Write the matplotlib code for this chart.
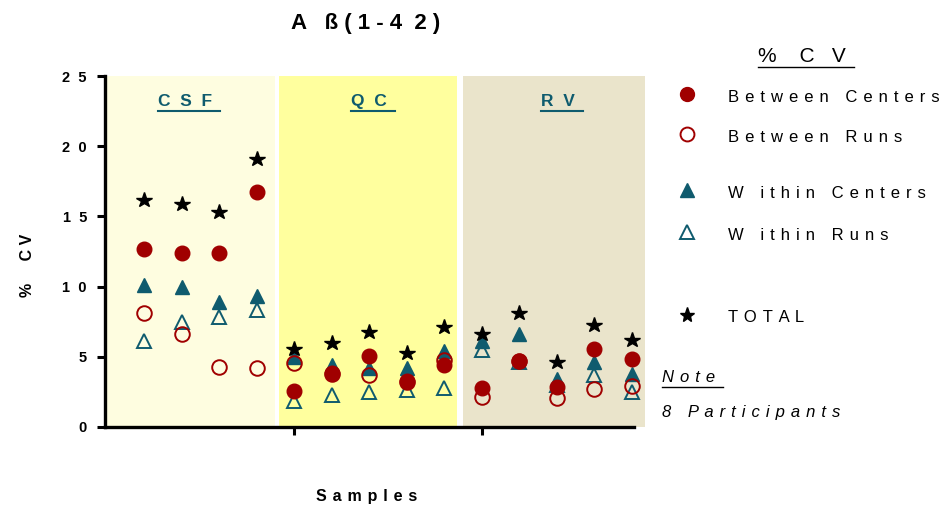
import matplotlib
matplotlib.use("Agg")
import matplotlib.pyplot as plt
from matplotlib.lines import Line2D

plt.rcParams['font.family'] = ['Liberation Sans', 'DejaVu Sans']

# data: 4 CSF, 5 QC, 5 RV samples
groups = ['CSF', 'QC', 'RV']
between_centers = [12.65, 12.4, 12.4, 16.75, 2.55, 3.85, 5.05, 3.25, 4.45, 2.8, 4.7, 2.85, 5.55, 4.85]
between_runs = [8.1, 6.65, 4.25, 4.2, 4.55, 3.8, 3.7, 3.2, 4.8, 2.15, 4.7, 2.05, 2.7, 2.95]
within_centers = [10.1, 10.0, 8.9, 9.3, 5.0, 4.4, 4.2, 4.2, 5.4, 6.1, 6.65, 3.45, 4.6, 3.8]
within_runs = [6.1, 7.5, 7.8, 8.35, 1.85, 2.3, 2.5, 2.6, 2.8, 5.5, 4.6, 3.0, 3.7, 2.5]
total = [16.2, 15.9, 15.3, 19.1, 5.55, 5.95, 6.75, 5.25, 7.1, 6.6, 8.15, 4.65, 7.25, 6.2]

red = '#A00000'
teal = '#0F5B6E'
bg_colors = ['#FEFDE0', '#FFFF9E', '#EAE4CB']


def spaced(s, sep=' \u200a'):
    # wide letter spacing like the original
    return sep.join(s)


fig = plt.figure(figsize=(9.53, 5.08), dpi=100)
ax = fig.add_axes([105 / 953, 1 - 427 / 508, 540 / 953, 351 / 508])

x = list(range(len(total)))

# background bands for each sample group
spans = [(-0.99, 3.49), (3.6, 8.35), (8.51, 13.36)]
label_x = [1.1, 6.0, 11.05]
for (a, b), c in zip(spans, bg_colors):
    ax.axvspan(a, b, color=c, zorder=0, lw=0)

ms = 10.5
ax.plot(x, within_runs, '^', ms=ms, mfc='none', mec=teal, mew=1.4, ls='none', zorder=3)
ax.plot(x, within_centers, '^', ms=ms, color=teal, ls='none', zorder=4)
ax.plot(x, between_runs, 'o', ms=ms, mfc='none', mec=red, mew=1.4, ls='none', zorder=5)
ax.plot(x, between_centers, 'o', ms=ms, color=red, ls='none', zorder=5)
ax.plot(x, total, '*', ms=11.5, color='black', ls='none', zorder=6)

ax.set_xlim(-1.04, 13.36)
ax.set_ylim(0, 25)
ax.set_yticks([0, 5, 10, 15, 20, 25])
ax.set_yticklabels([spaced(str(v), '  ') for v in [0, 5, 10, 15, 20, 25]],
                   fontweight='bold', fontsize=10.5)
ax.set_xticks([4, 9])
ax.set_xticklabels([])
ax.tick_params(width=2.2, length=6, direction='out')
ax.tick_params(axis='y', pad=7)
ax.spines['top'].set_visible(False)
ax.spines['right'].set_visible(False)
for s in ['left', 'bottom']:
    ax.spines[s].set_linewidth(2.4)
ax.spines['bottom'].set_bounds(-1.04, 13.07)

fig.text(28 / 953, 1 - 265 / 508, spaced('%  CV', ' '), rotation=90, ha='center', va='center',
         fontweight='bold', fontsize=11.5)
fig.text(367 / 953, 1 - 497 / 508, spaced('Samples'), ha='center', va='center',
         fontweight='bold', fontsize=11.5)
fig.text(366 / 953, 1 - 23 / 508, 'A   ß ( 1 - 4  2 )', ha='center', va='center',
         fontweight='bold', fontsize=16)

underlined = []
for g, lx in zip(groups, label_x):
    t = ax.text(lx, 23.2, spaced(g, '  '), ha='center', va='center', color=teal,
                fontweight='bold', fontsize=12.5)
    underlined.append((t, teal, 1.5, 4))

# legend
lg = fig.add_axes([0, 0, 1, 1], facecolor='none')
lg.set_xlim(0, 953)
lg.set_ylim(508, 0)
lg.axis('off')
mx, tx = 687, 728
rows = [
    (94, 'o', dict(color=red), 'Between Centers'),
    (134, 'o', dict(mfc='none', mec=red, mew=1.4), 'Between Runs'),
    (190, '^', dict(color=teal), 'W ithin Centers'),
    (232, '^', dict(mfc='none', mec=teal, mew=1.4), 'W ithin Runs'),
    (315, '*', dict(color='black'), 'TOTAL'),
]
for y, m, kw, label in rows:
    lg.plot([mx], [y], m, ms=(10 if m != '*' else 11), ls='none', **kw)
    lg.text(tx, y + 3, spaced(label), ha='left', va='center', fontsize=12)

t = lg.text(802, 56, '%    C   V', ha='center', va='center', fontsize=15)
underlined.append((t, 'black', 1.0, 3))
t = lg.text(662, 378, spaced('Note'), ha='left', va='center', fontsize=12, style='italic')
underlined.append((t, 'black', 1.0, 3))
lg.text(662, 412, spaced('8 Participants'), ha='left', va='center', fontsize=12,
        style='italic')

fig.canvas.draw()
r = fig.canvas.get_renderer()
for t, c, lw, pad in underlined:
    bb = t.get_window_extent(r)
    y0 = (bb.y0 - pad + 2) / fig.bbox.height
    fig.add_artist(Line2D([bb.x0 / fig.bbox.width, (bb.x1 + 8) / fig.bbox.width], [y0, y0],
                          color=c, lw=lw))

fig.savefig('out.png', dpi=100)
